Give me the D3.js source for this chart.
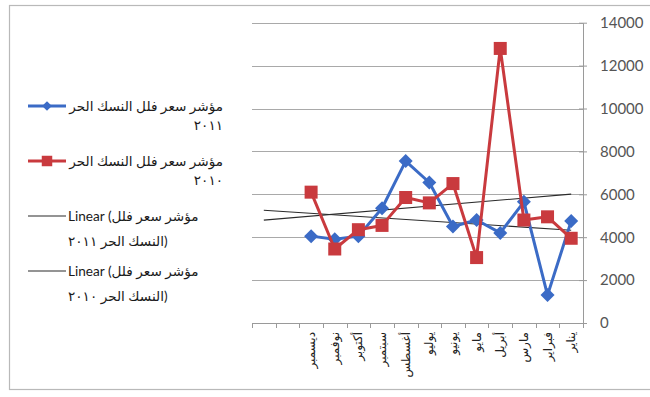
<!DOCTYPE html>
<html>
<head>
<meta charset="utf-8">
<script src="https://cdn.jsdelivr.net/npm/d3@7"></script>
<style>
  html, body { margin: 0; padding: 0; background: #ffffff; }
  svg { display: block; }
</style>
</head>
<body>
<svg id="chart" width="650" height="397"></svg>
<script>
// Months, laid out right-to-left (January at the right end)
const months = ["ديسمبر", "نوفمبر", "أكتوبر", "سبتمبر", "أغسطس", "يوليو",
                "يونيو", "مايو", "أبريل", "مارس", "فبراير", "يناير"];

// Villa price index, 2011 and 2010
const index2011 = [4050, 3900, 4050, 5350, 7550, 6550, 4500, 4800, 4200, 5650, 1300, 4750];
const index2010 = [6100, 3450, 4350, 4550, 5850, 5600, 6500, 3050, 12800, 4800, 4950, 3950];

const yTicks = [0, 2000, 4000, 6000, 8000, 10000, 12000, 14000];

// Linear trendlines are projected two periods backward
const backwardPeriods = 2;

const series = [
  { name: "2011", values: index2011, color: "#3b6bc6", marker: "diamond",
    legend: ["مؤشر سعر فلل النسك الحر", "٢٠١١"],
    trendLegend: ["Linear (مؤشر سعر فلل", "النسك الحر ٢٠١١)"] },
  { name: "2010", values: index2010, color: "#c93a3e", marker: "square",
    legend: ["مؤشر سعر فلل النسك الحر", "٢٠١٠"],
    trendLegend: ["Linear (مؤشر سعر فلل", "النسك الحر ٢٠١٠)"] }
];

const svg = d3.select("#chart");

// outer chart frame
svg.append("rect")
  .attr("x", 9.5).attr("y", 5.5)
  .attr("width", 660).attr("height", 384)
  .attr("fill", "none").attr("stroke", "#b9b9b9").attr("stroke-width", 1.2);

const plot = { left: 252, right: 583, top: 22.7, bottom: 323 };

const x = d3.scaleBand()
  .domain(d3.range(-backwardPeriods, months.length))
  .range([plot.left, plot.right])
  .paddingInner(0).paddingOuter(0);
const cx = i => x(i) + x.bandwidth() / 2;

const y = d3.scaleLinear().domain([0, 14000]).range([plot.bottom, plot.top]);

// horizontal gridlines
svg.append("g").selectAll("line")
  .data(yTicks.filter(v => v > 0))
  .join("line")
  .attr("x1", plot.left).attr("x2", plot.right)
  .attr("y1", d => Math.round(y(d)) + 0.5).attr("y2", d => Math.round(y(d)) + 0.5)
  .attr("stroke", "#a9a9a9").attr("stroke-width", 1);

// right value axis
const yAxis = svg.append("g")
  .attr("transform", `translate(${plot.right},0)`)
  .call(d3.axisRight(y).tickValues(yTicks).tickSizeInner(4).tickSizeOuter(0).tickPadding(13)
        .tickFormat(d3.format("d")));
yAxis.select(".domain").attr("stroke", "#9a9a9a");
yAxis.selectAll(".tick line").attr("x1", -4).attr("x2", 4).attr("stroke", "#9a9a9a");
yAxis.selectAll(".tick text")
  .attr("fill", "#555555")
  .style("font-family", "Lato, 'Open Sans', sans-serif")
  .style("font-size", "15px");

// bottom category axis
const xAxisG = svg.append("g");
xAxisG.append("line")
  .attr("x1", plot.left).attr("x2", plot.right)
  .attr("y1", plot.bottom + 0.5).attr("y2", plot.bottom + 0.5)
  .attr("stroke", "#9a9a9a");
const boundaries = x.domain().map(d => x(d)).concat([plot.right]);
xAxisG.selectAll("line.tick")
  .data(boundaries)
  .join("line")
  .attr("class", "tick")
  .attr("x1", d => Math.round(d) + 0.5).attr("x2", d => Math.round(d) + 0.5)
  .attr("y1", plot.bottom).attr("y2", plot.bottom + 5)
  .attr("stroke", "#9a9a9a");
xAxisG.selectAll("text")
  .data(months)
  .join("text")
  .attr("transform", (d, i) => `translate(${cx(i) + 4},${plot.bottom + 9}) rotate(-90)`)
  .attr("text-anchor", "end")
  .style("font-family", "'DejaVu Sans', sans-serif")
  .style("font-size", "12px")
  .attr("fill", "#222")
  .text(d => d);

// linear regression trendlines
function linearFit(vals) {
  const n = vals.length;
  const xs = d3.range(n);
  const mx = d3.mean(xs), my = d3.mean(vals);
  let sxy = 0, sxx = 0;
  xs.forEach((xi, k) => { sxy += (xi - mx) * (vals[k] - my); sxx += (xi - mx) * (xi - mx); });
  const slope = sxy / sxx;
  return t => my + slope * (t - mx);
}

series.forEach(s => {
  const f = linearFit(s.values);
  const t0 = -backwardPeriods, t1 = s.values.length - 1;
  svg.append("line")
    .attr("x1", cx(t0)).attr("y1", y(f(t0)))
    .attr("x2", cx(t1)).attr("y2", y(f(t1)))
    .attr("stroke", "#2b2b2b").attr("stroke-width", 1.1);
});

// data lines and markers
const line = d3.line().x((d, i) => cx(i)).y(d => y(d));

function drawMarker(g, type, color, px, py, size) {
  if (type === "diamond") {
    g.append("path")
      .attr("d", d3.symbol(d3.symbolDiamond2, size)())
      .attr("transform", `translate(${px},${py})`)
      .attr("fill", color);
  } else {
    const h = Math.sqrt(size) / 2;
    g.append("rect")
      .attr("x", px - h).attr("y", py - h)
      .attr("width", 2 * h).attr("height", 2 * h)
      .attr("fill", color);
  }
}

series.forEach(s => {
  const g = svg.append("g");
  g.append("path")
    .datum(s.values)
    .attr("d", line)
    .attr("fill", "none")
    .attr("stroke", s.color)
    .attr("stroke-width", 3)
    .attr("stroke-linejoin", "round");
  s.values.forEach((v, i) => drawMarker(g, s.marker, s.color, cx(i), y(v), s.marker === "diamond" ? 125 : 169));
});

// legend
const legend = svg.append("g")
  .style("font-family", "Lato, 'DejaVu Sans', sans-serif")
  .style("font-size", "13.6px")
  .attr("fill", "#1a1a1a");

const swatch = { x1: 28, x2: 66 };
const textRight = 223;
const textLeft = 68;

series.forEach((s, k) => {
  const cy = [106, 161][k];
  const g = legend.append("g");
  g.append("line")
    .attr("x1", swatch.x1).attr("x2", swatch.x2)
    .attr("y1", cy).attr("y2", cy)
    .attr("stroke", s.color).attr("stroke-width", 3);
  drawMarker(g, s.marker, s.color, (swatch.x1 + swatch.x2) / 2, cy, s.marker === "diamond" ? 60 : 110);
  s.legend.forEach((t, j) => {
    g.append("text")
      .attr("x", textRight).attr("y", cy + 5 + j * 19)
      .attr("text-anchor", "end")
      .text(t);
  });
});

series.forEach((s, k) => {
  const cy = [216, 271][k];
  const g = legend.append("g");
  g.append("line")
    .attr("x1", swatch.x1).attr("x2", swatch.x2)
    .attr("y1", cy).attr("y2", cy)
    .attr("stroke", "#2b2b2b").attr("stroke-width", 1.1);
  s.trendLegend.forEach((t, j) => {
    g.append("text")
      .attr("x", textLeft).attr("y", cy + 5 + j * 25)
      .attr("text-anchor", "start")
      .text(t);
  });
});
</script>
</body>
</html>
